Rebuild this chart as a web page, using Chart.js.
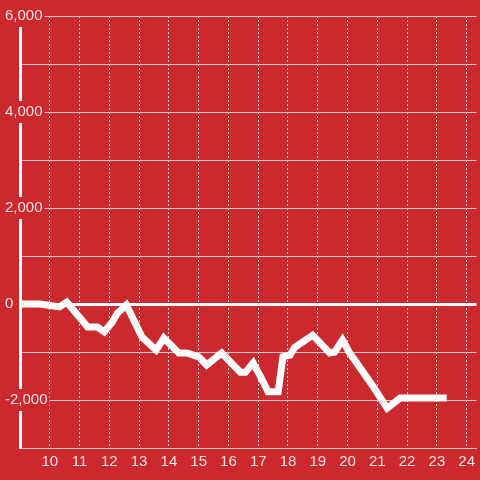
<!DOCTYPE html>
<html>
<head>
<meta charset="utf-8">
<script src="https://cdn.jsdelivr.net/npm/chart.js@4.4.1/dist/chart.umd.min.js"></script>
<style>
  body { margin: 0; background: #cc292e; }
  canvas { display: block; }
</style>
</head>
<body>
<canvas id="mycanvas" width="480" height="480"></canvas>
<script>
// hour of day vs value
var hours = [9.0, 9.67, 10.33, 10.57, 11.27, 11.6, 11.83, 12.1, 12.27, 12.57,
	13.1, 13.57, 13.83, 14.33, 14.6, 15.0, 15.27, 15.77, 16.4, 16.57,
	16.83, 17.1, 17.33, 17.67, 17.83, 18.07, 18.23, 18.5, 18.83, 19.4,
	19.57, 19.83, 20.07, 20.4, 20.83, 21.33, 21.77, 23.33];
var values = [0, 0, -60, 40, -480, -480, -580, -375, -190, -20,
	-690, -960, -710, -1020, -1020, -1100, -1270, -1020, -1420, -1420,
	-1230, -1540, -1830, -1830, -1100, -1060, -900, -790, -650, -1020,
	-1000, -750, -1020, -1310, -1690, -2170, -1960, -1960];
var xTicks = [10, 11, 12, 13, 14, 15, 16, 17, 18, 19, 20, 21, 22, 23, 24];
var yLabelled = [-2000, 0, 2000, 4000, 6000];

var red = "#cc292e";
var textColor = "rgba(255, 255, 255, 0.85)";

var points = [];
for (var i in hours) {
	points.push({x: hours[i], y: values[i]});
}

var ctx = document.getElementById("mycanvas");

var LineGraph = new Chart(ctx, {
	type: 'line',
	data: {
		datasets: [
			{
				data: points,
				borderColor: "#ffffff",
				borderWidth: 7,
				pointRadius: 0,
				fill: false,
				tension: 0
			}
		]
	},
	options: {
		responsive: false,
		animation: false,
		layout: { padding: { left: 0, top: 16, right: 0, bottom: 0 } },
		plugins: { legend: { display: false }, tooltip: { enabled: false } },
		scales: {
			x: {
				type: 'linear',
				min: 9,
				max: 24.33,
				afterBuildTicks: function(scale) {
					scale.ticks = xTicks.map(function(v){ return {value: v}; });
				},
				afterFit: function(scale) { scale.height = 32; },
				grid: { color: "rgba(255, 255, 255, 0.85)", lineWidth: 1, drawTicks: false },
				border: { display: true, color: "#c8c8c8", width: 1, dash: [2, 2] },
				ticks: { color: textColor, padding: 5, font: { family: "Liberation Sans", size: 15 }, maxRotation: 0 }
			},
			y: {
				min: -3000,
				max: 6000,
				afterFit: function(scale) { scale.width = 20; },
				grid: {
					drawTicks: false,
					color: function(c) { return c.tick && c.tick.value === 0 ? "#ffffff" : "#c8c8c8"; },
					lineWidth: function(c) { return c.tick && c.tick.value === 0 ? 3 : 1; }
				},
				border: { display: true, color: "#ffffff", width: 3 },
				ticks: {
					stepSize: 1000,
					mirror: true,
					padding: -15,
					color: textColor,
					font: { family: "Liberation Sans", size: 15 },
					showLabelBackdrop: true,
					backdropPadding: 2,
					backdropColor: function(c) {
						return c.tick && yLabelled.indexOf(c.tick.value) >= 0 ? red : "rgba(0,0,0,0)";
					},
					callback: function(value) {
						return yLabelled.indexOf(value) >= 0 ? value.toLocaleString('en-US') : '';
					}
				}
			}
		}
	}
});
</script>
</body>
</html>
